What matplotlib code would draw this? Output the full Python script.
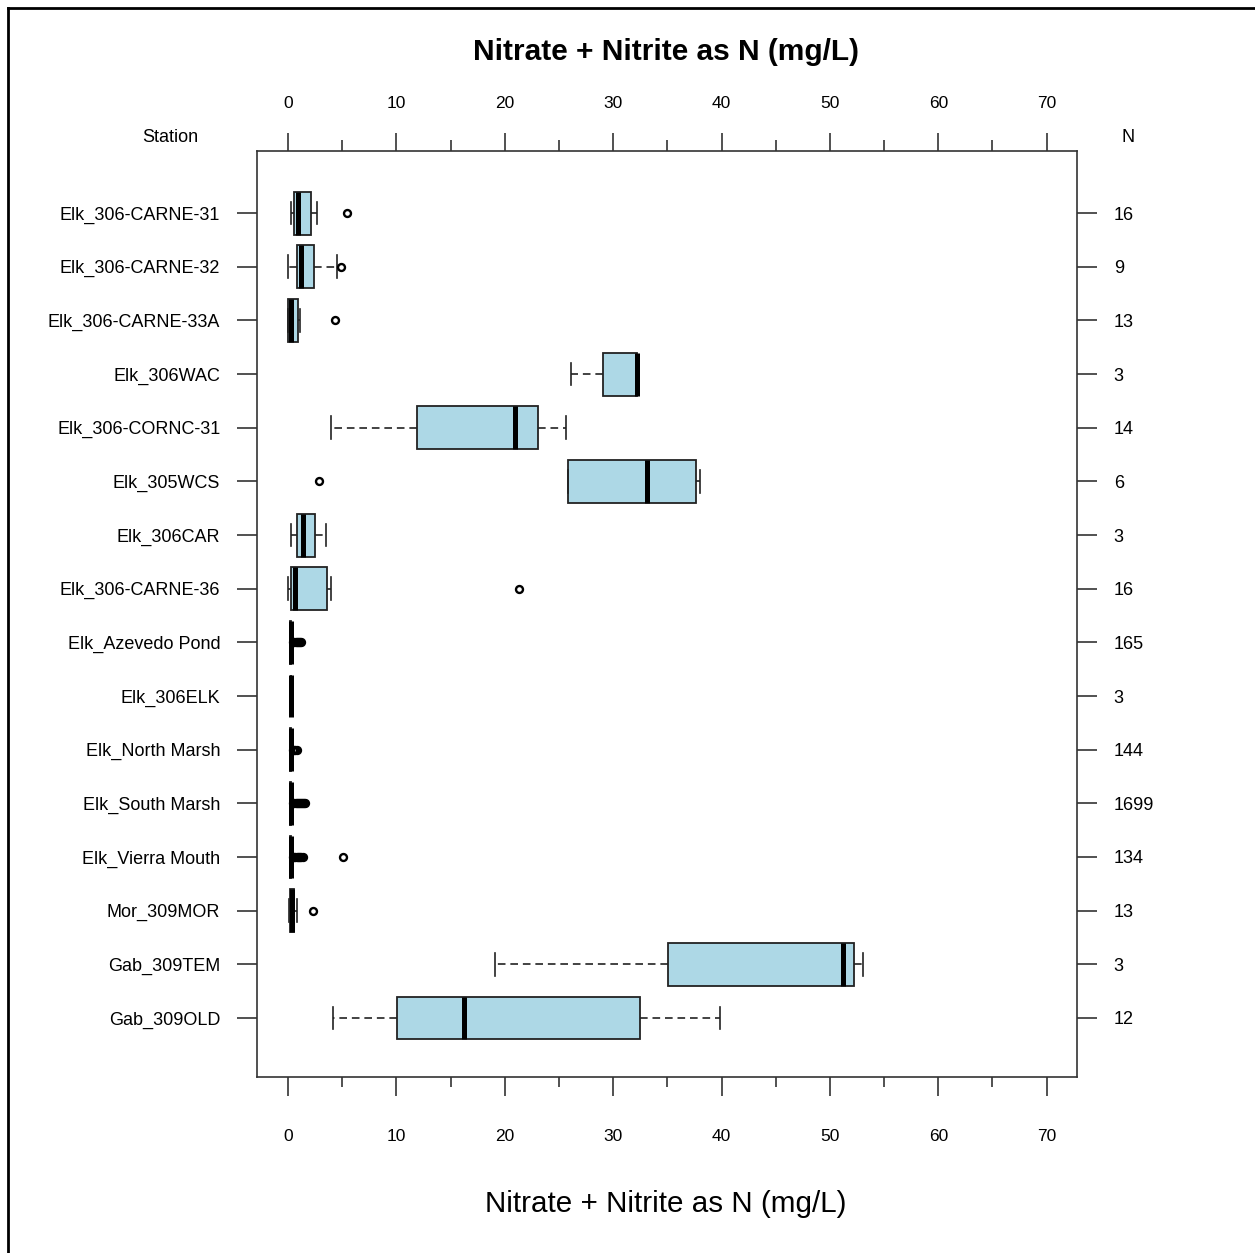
import matplotlib
matplotlib.use("Agg")
import matplotlib.pyplot as plt
from matplotlib.lines import Line2D

plt.rcParams["font.family"] = ["Liberation Sans", "DejaVu Sans"]
plt.rcParams["lines.scale_dashes"] = False

# stations, top to bottom
stations = ["Elk_306-CARNE-31", "Elk_306-CARNE-32", "Elk_306-CARNE-33A", "Elk_306WAC",
            "Elk_306-CORNC-31", "Elk_305WCS", "Elk_306CAR", "Elk_306-CARNE-36",
            "Elk_Azevedo Pond", "Elk_306ELK", "Elk_North Marsh", "Elk_South Marsh",
            "Elk_Vierra Mouth", "Mor_309MOR", "Gab_309TEM", "Gab_309OLD"]
n_obs = [16, 9, 13, 3, 14, 6, 3, 16, 165, 3, 144, 1699, 134, 13, 3, 12]

# box statistics (mg/L)
whis_lo = [0.28, 0.0, 0.0, 26.1, 3.97, 25.8, 0.28, 0.03, 0.15, 0.25, 0.2, 0.2, 0.2, 0.12, 19.1, 4.18]
q1 = [0.55, 0.8, 0.0, 29.1, 11.93, 25.8, 0.83, 0.25, 0.2, 0.25, 0.22, 0.22, 0.22, 0.15, 35.1, 10.04]
median = [0.9, 1.17, 0.25, 32.2, 20.9, 33.1, 1.35, 0.65, 0.25, 0.25, 0.25, 0.25, 0.25, 0.35, 51.2, 16.2]
q3 = [2.1, 2.37, 0.9, 32.2, 23.1, 37.6, 2.5, 3.63, 0.3, 0.25, 0.3, 0.3, 0.3, 0.6, 52.2, 32.5]
whis_hi = [2.65, 4.55, 1.1, 32.2, 25.65, 38.05, 3.5, 3.97, 0.4, 0.25, 0.4, 0.4, 0.4, 0.8, 53.1, 39.9]
outliers = [
    [5.4],
    [4.85],
    [4.3],
    [],
    [],
    [2.9],
    [],
    [21.3],
    [0.5, 0.6, 0.7, 0.8, 0.9, 1.0, 1.1, 1.2],
    [],
    [0.45, 0.55, 0.65, 0.85],
    [0.5, 0.6, 0.7, 0.8, 0.9, 1.0, 1.1, 1.2, 1.3, 1.4, 1.5, 1.6],
    [0.45, 0.55, 0.65, 0.8, 0.9, 1.0, 1.1, 1.2, 1.35, 5.05],
    [2.28],
    [],
    [],
]

x_major = [0, 10, 20, 30, 40, 50, 60, 70]
x_minor = [5, 15, 25, 35, 45, 55, 65]

stats = []
for i in range(len(stations)):
    stats.append(dict(label=stations[i], whislo=whis_lo[i], q1=q1[i], med=median[i],
                      q3=q3[i], whishi=whis_hi[i], fliers=outliers[i]))
positions = list(range(1, len(stations) + 1))

fig = plt.figure(figsize=(12.55, 12.53), dpi=100)
ax = fig.add_axes([257 / 1255, 1 - 1077 / 1253, 820 / 1255, 926 / 1253])

ax.bxp(stats, positions=positions, orientation="horizontal", widths=0.8,
       capwidths=0.42, patch_artist=True, manage_ticks=False,
       boxprops=dict(facecolor="#add8e6", edgecolor="#222222", linewidth=1.3),
       medianprops=dict(color="black", linewidth=3.6, solid_capstyle="butt"),
       whiskerprops=dict(color="#222222", linewidth=1.2, linestyle=(0, (5.5, 3.5))),
       capprops=dict(color="#222222", linewidth=1.2),
       flierprops=dict(marker="o", markerfacecolor="none", markeredgecolor="black",
                       markersize=5, markeredgewidth=1.7))

ax.set_xlim(-2.86, 72.8)
ax.set_ylim(17.1, -0.157)
for s in ax.spines.values():
    s.set_color("#333333")
    s.set_linewidth(1.2)

# bottom x axis
ax.set_xticks(x_major)
ax.set_xticks(x_minor, minor=True)
ax.tick_params(axis="x", which="major", length=13.7, width=1.2, color="#333333",
               pad=24, labelsize=12.5)
ax.tick_params(axis="x", which="minor", length=7.2, width=1.2, color="#333333")

# top x axis
top = ax.secondary_xaxis("top")
top.set_xticks(x_major)
top.set_xticks(x_minor, minor=True)
top.tick_params(axis="x", which="major", length=13, width=1.2, color="#333333",
                pad=16, labelsize=12.5)
top.tick_params(axis="x", which="minor", length=8, width=1.2, color="#333333")
top.spines["top"].set_visible(False)

# station labels on the left
ax.set_yticks(positions)
ax.set_yticklabels(stations)
ax.tick_params(axis="y", length=14.4, width=1.2, color="#333333", pad=12, labelsize=13)

# counts on the right
right = ax.secondary_yaxis("right")
right.set_yticks(positions)
right.set_yticklabels([str(n) for n in n_obs])
right.tick_params(axis="y", length=14.4, width=1.2, color="#333333", pad=12, labelsize=13)
right.spines["right"].set_visible(False)

fig.text(170 / 1255, 1 - 138 / 1253, "Station", ha="center", va="center", fontsize=13)
fig.text(1128 / 1255, 1 - 138 / 1253, "N", ha="center", va="center", fontsize=13)
fig.text(666 / 1255, 1 - 52 / 1253, "Nitrate + Nitrite as N (mg/L)", ha="center",
         va="center", fontsize=21.5, fontweight="bold")
fig.text(666 / 1255, 1 - 1204 / 1253, "Nitrate + Nitrite as N (mg/L)", ha="center",
         va="center", fontsize=21.3)

# page frame around the figure
fig.add_artist(Line2D([8 / 1255, 8 / 1255], [0, 1 - 8 / 1253], color="black", lw=2))
fig.add_artist(Line2D([8 / 1255, 1], [1 - 8 / 1253, 1 - 8 / 1253], color="black", lw=2))

fig.savefig("out.png", dpi=100)
